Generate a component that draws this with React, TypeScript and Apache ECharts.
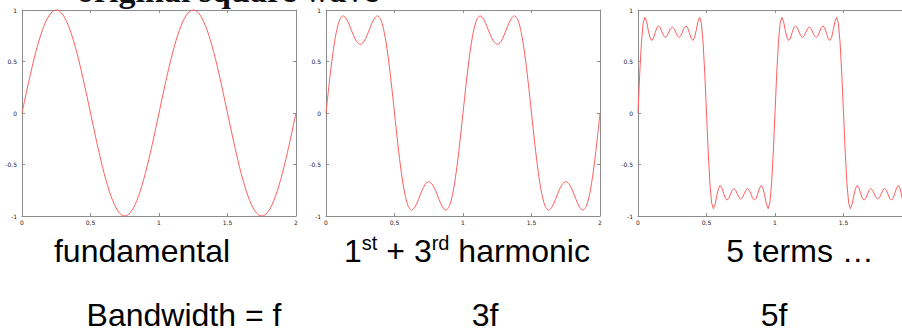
import React, { useEffect, useRef } from "react";
import * as echarts from "echarts";

// ---------- data ----------
const headline = "original square wave";
const panelCaptions = ["fundamental", "1st + 3rd harmonic", "5 terms …"];
const bandwidthLabels = ["Bandwidth = f", "3f", "5f"];

const xMin = 0;
const xMax = 2;
const xInterval = 0.5;
const yMin = -1;
const yMax = 1;
const yInterval = 0.5;

// sample spacing along x for each panel
const stepFundamental = 0.025;
const stepHarmonic3 = 0.025;
const stepTerms5 = 0.0125;

const fundamental = [
  0, 0.156, 0.309, 0.454, 0.588, 0.707, 0.809, 0.891, 0.951, 0.988, 1, 0.988, 0.951, 0.891, 0.809, 0.707, 0.588, 0.454, 0.309, 0.156,
  0, -0.156, -0.309, -0.454, -0.588, -0.707, -0.809, -0.891, -0.951, -0.988, -1, -0.988, -0.951, -0.891, -0.809, -0.707, -0.588, -0.454, -0.309, -0.156,
  0, 0.156, 0.309, 0.454, 0.588, 0.707, 0.809, 0.891, 0.951, 0.988, 1, 0.988, 0.951, 0.891, 0.809, 0.707, 0.588, 0.454, 0.309, 0.156,
  0, -0.156, -0.309, -0.454, -0.588, -0.707, -0.809, -0.891, -0.951, -0.988, -1, -0.988, -0.951, -0.891, -0.809, -0.707, -0.588, -0.454, -0.309, -0.156,
  0,
];

const harmonic3 = [
  0, 0.308, 0.579, 0.783, 0.905, 0.943, 0.912, 0.839, 0.755, 0.691, 0.667, 0.691, 0.755, 0.839, 0.912, 0.943, 0.905, 0.783, 0.579, 0.308,
  0, -0.308, -0.579, -0.783, -0.905, -0.943, -0.912, -0.839, -0.755, -0.691, -0.667, -0.691, -0.755, -0.839, -0.912, -0.943, -0.905, -0.783, -0.579, -0.308,
  0, 0.308, 0.579, 0.783, 0.905, 0.943, 0.912, 0.839, 0.755, 0.691, 0.667, 0.691, 0.755, 0.839, 0.912, 0.943, 0.905, 0.783, 0.579, 0.308,
  0, -0.308, -0.579, -0.783, -0.905, -0.943, -0.912, -0.839, -0.755, -0.691, -0.667, -0.691, -0.755, -0.839, -0.912, -0.943, -0.905, -0.783, -0.579, -0.308,
  0,
];

const terms5 = [
  0, 0.38, 0.686, 0.872, 0.929, 0.888, 0.803, 0.731, 0.704, 0.727, 0.779, 0.827, 0.846, 0.829, 0.788, 0.749, 0.733, 0.749, 0.785, 0.82,
  0.835, 0.82, 0.785, 0.749, 0.733, 0.749, 0.788, 0.829, 0.846, 0.827, 0.779, 0.727, 0.704, 0.731, 0.803, 0.888, 0.929, 0.872, 0.686, 0.38,
  0, -0.38, -0.686, -0.872, -0.929, -0.888, -0.803, -0.731, -0.704, -0.727, -0.779, -0.827, -0.846, -0.829, -0.788, -0.749, -0.733, -0.749, -0.785, -0.82,
  -0.835, -0.82, -0.785, -0.749, -0.733, -0.749, -0.788, -0.829, -0.846, -0.827, -0.779, -0.727, -0.704, -0.731, -0.803, -0.888, -0.929, -0.872, -0.686, -0.38,
  0, 0.38, 0.686, 0.872, 0.929, 0.888, 0.803, 0.731, 0.704, 0.727, 0.779, 0.827, 0.846, 0.829, 0.788, 0.749, 0.733, 0.749, 0.785, 0.82,
  0.835, 0.82, 0.785, 0.749, 0.733, 0.749, 0.788, 0.829, 0.846, 0.827, 0.779, 0.727, 0.704, 0.731, 0.803, 0.888, 0.929, 0.872, 0.686, 0.38,
  0, -0.38, -0.686, -0.872, -0.929, -0.888, -0.803, -0.731, -0.704, -0.727, -0.779, -0.827, -0.846, -0.829, -0.788, -0.749, -0.733, -0.749, -0.785, -0.82,
  -0.835, -0.82, -0.785, -0.749, -0.733, -0.749, -0.788, -0.829, -0.846, -0.827, -0.779, -0.727, -0.704, -0.731, -0.803, -0.888, -0.929, -0.872, -0.686, -0.38,
  0,
];

// ---------- layout / style ----------
const frameColor = "#8c8c8c";
const curveColor = "#ff5e5e";
const sansFont = "'Liberation Sans', Arial, sans-serif";

const panels = [
  { left: 22, values: fundamental, step: stepFundamental, smooth: true },
  { left: 326, values: harmonic3, step: stepHarmonic3, smooth: true },
  { left: 638, values: terms5, step: stepTerms5, smooth: false },
];
const plotTop = 10;
const plotWidth = 274;
const plotHeight = 206;

function buildOption() {
  const grid: any[] = [];
  const xAxis: any[] = [];
  const yAxis: any[] = [];
  const series: any[] = [];

  panels.forEach((p, i) => {
    grid.push({ left: p.left, top: plotTop, width: plotWidth, height: plotHeight, containLabel: false });
    const lineStyle = { color: frameColor, width: 1 };
    const baseX = {
      gridIndex: i,
      type: "value",
      min: xMin,
      max: xMax,
      interval: xInterval,
      splitLine: { show: false },
      axisLine: { show: true, onZero: false, lineStyle },
      axisTick: { show: true, inside: true, length: 3, lineStyle },
    };
    xAxis.push({
      ...baseX,
      position: "bottom",
      axisLabel: { show: true, fontSize: 6, margin: 3, color: "#222", fontFamily: "'DejaVu Sans', sans-serif" },
    });
    xAxis.push({ ...baseX, position: "top", axisLabel: { show: false } });
    const baseY = {
      gridIndex: i,
      type: "value",
      min: yMin,
      max: yMax,
      interval: yInterval,
      splitLine: { show: false },
      axisLine: { show: true, onZero: false, lineStyle },
      axisTick: { show: true, inside: true, length: 3, lineStyle },
    };
    yAxis.push({
      ...baseY,
      position: "left",
      axisLabel: { show: true, fontSize: 6, margin: 5, color: "#222", fontFamily: "'DejaVu Sans', sans-serif" },
    });
    yAxis.push({ ...baseY, position: "right", axisLabel: { show: false } });

    series.push({
      type: "line",
      xAxisIndex: i * 2,
      yAxisIndex: i * 2,
      data: p.values.map((v, k) => [k * p.step, v]),
      showSymbol: false,
      symbol: "none",
      smooth: p.smooth ? 0.3 : false,
      lineStyle: { color: curveColor, width: 1 },
      clip: false,
    });
  });

  const captionCenters = [142, 467, 800];
  const bandwidthCenters = [184, 485, 774];

  const graphic: any[] = [
    {
      type: "text",
      x: 77,
      y: -10,
      style: {
        text: headline,
        fontFamily: "'Liberation Serif', 'Times New Roman', serif",
        fontSize: 34,
        fontWeight: "bold",
        fill: "#111",
        textAlign: "left",
        textVerticalAlign: "middle",
      },
    },
    {
      type: "text",
      x: captionCenters[0],
      y: 251,
      style: {
        text: panelCaptions[0],
        fontFamily: sansFont,
        fontSize: 32,
        fill: "#000",
        textAlign: "center",
        textVerticalAlign: "middle",
      },
    },
    {
      type: "text",
      x: captionCenters[1],
      y: 248,
      style: {
        text: "{a|1}{s|st}{a| + 3}{s|rd}{a| harmonic}",
        fontFamily: sansFont,
        fontSize: 32,
        fill: "#000",
        textAlign: "center",
        textVerticalAlign: "middle",
        rich: {
          a: { fontFamily: sansFont, fontSize: 32, lineHeight: 38, fill: "#000", verticalAlign: "bottom" },
          s: { fontFamily: sansFont, fontSize: 20, lineHeight: 38, fill: "#000", verticalAlign: "top", padding: [4, 0, 0, 0] },
        },
      },
    },
    {
      type: "text",
      x: captionCenters[2],
      y: 251,
      style: {
        text: panelCaptions[2],
        fontFamily: sansFont,
        fontSize: 32,
        fill: "#000",
        textAlign: "center",
        textVerticalAlign: "middle",
      },
    },
  ];
  bandwidthLabels.forEach((t, i) => {
    graphic.push({
      type: "text",
      x: bandwidthCenters[i],
      y: 315,
      style: {
        text: t,
        fontFamily: sansFont,
        fontSize: 32,
        fill: "#000",
        textAlign: "center",
        textVerticalAlign: "middle",
      },
    });
  });

  return { animation: false, backgroundColor: "#fff", grid, xAxis, yAxis, series, graphic };
}

export default function App() {
  const ref = useRef<HTMLDivElement>(null);
  useEffect(() => {
    if (!ref.current) return;
    const chart = echarts.init(ref.current, undefined, { renderer: "svg" });
    chart.setOption(buildOption() as any);
    return () => chart.dispose();
  }, []);
  return (
    <div style={{ position: "fixed", left: 0, top: 0, width: 902, height: 335, overflow: "hidden", background: "#fff" }}>
      <div ref={ref} style={{ width: 920, height: 335 }} />
    </div>
  );
}
